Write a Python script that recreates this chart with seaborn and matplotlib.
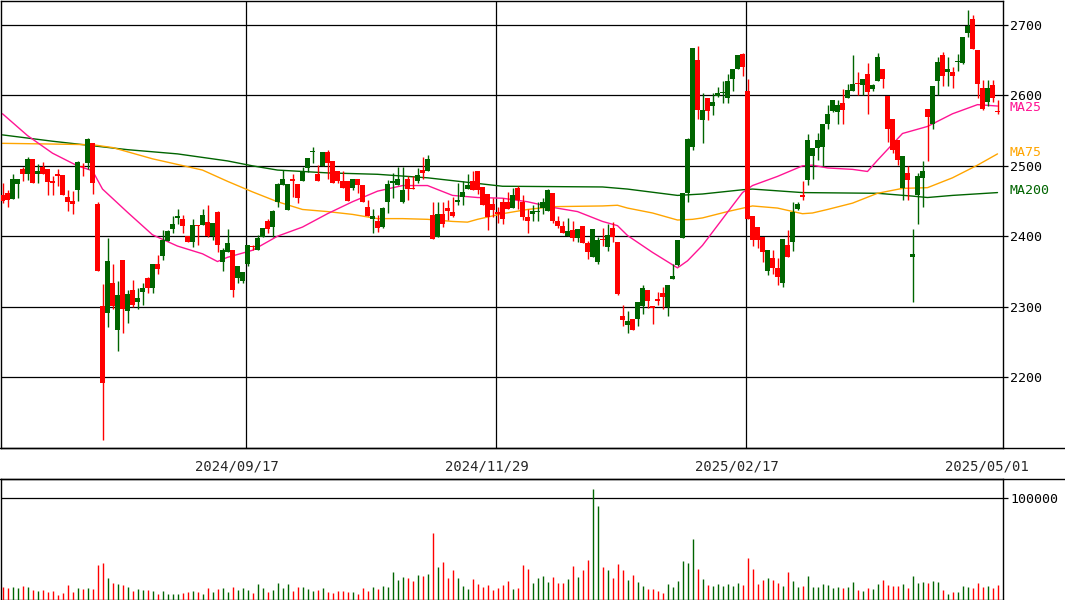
import numpy as np
import pandas as pd
import matplotlib
matplotlib.use("Agg")
import matplotlib.pyplot as plt
import seaborn as sns
from matplotlib.lines import Line2D

sns.set_style("white")
plt.rcParams['font.family'] = ['DejaVu Sans Mono', 'DejaVu Sans']

# daily candles, 2024/07 .. 2025/05/01 (200 sessions)
opens = [2458, 2462, 2453, 2474, 2495, 2488, 2510, 2489, 2499, 2495,
         2478, 2488, 2487, 2456, 2450, 2465, 2500, 2504, 2532, 2446,
         2301, 2291, 2333, 2266, 2366, 2293, 2324, 2307, 2321, 2341,
         2327, 2360, 2372, 2393, 2410, 2426, 2424, 2400, 2392, 2416,
         2416, 2420, 2400, 2434, 2364, 2378, 2380, 2340, 2337, 2360,
         2386, 2380, 2399, 2422, 2413, 2449, 2473, 2437, 2482, 2474,
         2478, 2497, 2519, 2489, 2500, 2519, 2507, 2492, 2479, 2479,
         2469, 2482, 2473, 2442, 2424, 2422, 2413, 2448, 2475, 2473,
         2449, 2481, 2469, 2479, 2494, 2492, 2430, 2399, 2431, 2440,
         2435, 2448, 2456, 2467, 2479, 2493, 2470, 2460, 2446, 2435,
         2449, 2448, 2440, 2469, 2449, 2427, 2431, 2435, 2440, 2436,
         2461, 2422, 2415, 2400, 2409, 2398, 2415, 2390, 2371, 2364,
         2396, 2384, 2412, 2392, 2287, 2274, 2283, 2282, 2301, 2324,
         2301, 2311, 2319, 2299, 2339, 2359, 2397, 2462, 2527, 2650,
         2565, 2597, 2585, 2599, 2603, 2597, 2623, 2637, 2659, 2606,
         2429, 2413, 2399, 2350, 2369, 2355, 2333, 2387, 2392, 2438,
         2458, 2480, 2514, 2526, 2527, 2560, 2578, 2576, 2589, 2597,
         2607, 2618, 2615, 2630, 2609, 2620, 2637, 2599, 2567, 2537,
         2469, 2490, 2371, 2458, 2483, 2581, 2559, 2620, 2657, 2634,
         2634, 2647, 2646, 2689, 2708, 2664, 2610, 2591, 2615, 2578]
highs = [2475, 2466, 2489, 2482, 2499, 2512, 2510, 2502, 2505, 2495,
         2485, 2495, 2487, 2466, 2464, 2507, 2504, 2540, 2532, 2448,
         2332, 2397, 2360, 2336, 2366, 2324, 2338, 2326, 2333, 2342,
         2360, 2373, 2409, 2409, 2429, 2439, 2430, 2400, 2424, 2416,
         2439, 2444, 2419, 2436, 2383, 2410, 2380, 2358, 2349, 2388,
         2388, 2402, 2412, 2425, 2437, 2475, 2494, 2474, 2489, 2474,
         2498, 2511, 2527, 2501, 2519, 2522, 2507, 2492, 2492, 2479,
         2482, 2482, 2473, 2451, 2439, 2430, 2442, 2480, 2490, 2499,
         2499, 2485, 2485, 2497, 2512, 2515, 2449, 2449, 2449, 2451,
         2456, 2475, 2478, 2489, 2492, 2493, 2470, 2460, 2454, 2442,
         2455, 2463, 2469, 2471, 2458, 2439, 2444, 2449, 2455, 2467,
         2461, 2429, 2422, 2426, 2421, 2410, 2415, 2393, 2410, 2399,
         2412, 2417, 2420, 2392, 2302, 2293, 2283, 2306, 2331, 2324,
         2301, 2321, 2328, 2331, 2360, 2395, 2462, 2540, 2667, 2670,
         2603, 2597, 2603, 2612, 2620, 2631, 2637, 2658, 2661, 2624,
         2429, 2413, 2399, 2381, 2381, 2369, 2396, 2409, 2448, 2448,
         2478, 2545, 2526, 2546, 2560, 2586, 2594, 2594, 2609, 2617,
         2657, 2633, 2624, 2646, 2617, 2660, 2637, 2599, 2567, 2537,
         2514, 2500, 2410, 2490, 2507, 2581, 2613, 2655, 2662, 2655,
         2641, 2659, 2683, 2721, 2714, 2664, 2622, 2622, 2622, 2594]
lows = [2447, 2441, 2453, 2454, 2478, 2480, 2475, 2476, 2489, 2458,
        2458, 2472, 2458, 2436, 2431, 2450, 2485, 2495, 2460, 2350,
        2110, 2271, 2296, 2237, 2262, 2276, 2300, 2297, 2302, 2320,
        2320, 2346, 2366, 2393, 2404, 2417, 2404, 2392, 2385, 2387,
        2416, 2399, 2395, 2377, 2350, 2378, 2314, 2334, 2333, 2358,
        2380, 2380, 2399, 2404, 2399, 2442, 2473, 2437, 2456, 2447,
        2478, 2491, 2504, 2478, 2500, 2482, 2476, 2476, 2469, 2450,
        2466, 2461, 2448, 2429, 2404, 2406, 2411, 2433, 2455, 2473,
        2447, 2451, 2467, 2475, 2482, 2492, 2396, 2399, 2413, 2423,
        2427, 2444, 2444, 2467, 2465, 2460, 2444, 2409, 2427, 2419,
        2418, 2439, 2440, 2439, 2423, 2405, 2421, 2422, 2432, 2436,
        2419, 2411, 2404, 2400, 2393, 2392, 2390, 2368, 2371, 2360,
        2386, 2379, 2392, 2316, 2272, 2262, 2267, 2272, 2290, 2298,
        2275, 2302, 2296, 2286, 2339, 2358, 2397, 2448, 2522, 2566,
        2532, 2565, 2572, 2598, 2590, 2590, 2607, 2637, 2627, 2424,
        2386, 2383, 2364, 2345, 2347, 2331, 2328, 2370, 2379, 2437,
        2451, 2473, 2481, 2509, 2500, 2552, 2576, 2560, 2560, 2597,
        2607, 2601, 2601, 2574, 2607, 2620, 2610, 2534, 2518, 2501,
        2452, 2451, 2307, 2417, 2442, 2507, 2552, 2601, 2613, 2613,
        2610, 2635, 2645, 2683, 2666, 2597, 2579, 2585, 2591, 2573]
closes = [2450, 2452, 2482, 2482, 2488, 2510, 2475, 2492, 2489, 2477,
          2476, 2486, 2458, 2449, 2446, 2505, 2498, 2538, 2475, 2350,
          2192, 2365, 2301, 2316, 2297, 2318, 2302, 2312, 2327, 2327,
          2360, 2354, 2395, 2407, 2417, 2429, 2414, 2392, 2416, 2414,
          2430, 2400, 2419, 2387, 2380, 2391, 2324, 2358, 2349, 2388,
          2384, 2398, 2412, 2410, 2436, 2474, 2482, 2474, 2479, 2454,
          2491, 2511, 2521, 2479, 2519, 2504, 2476, 2478, 2469, 2450,
          2482, 2473, 2448, 2429, 2429, 2412, 2440, 2474, 2478, 2482,
          2466, 2467, 2467, 2487, 2490, 2510, 2396, 2431, 2417, 2436,
          2429, 2451, 2463, 2473, 2465, 2466, 2444, 2428, 2437, 2432,
          2425, 2439, 2459, 2451, 2428, 2422, 2436, 2436, 2448, 2466,
          2421, 2414, 2404, 2407, 2398, 2410, 2390, 2377, 2410, 2395,
          2394, 2402, 2399, 2318, 2281, 2280, 2267, 2306, 2326, 2308,
          2298, 2308, 2313, 2331, 2344, 2395, 2462, 2538, 2667, 2580,
          2580, 2578, 2591, 2604, 2605, 2620, 2637, 2658, 2640, 2424,
          2395, 2395, 2377, 2381, 2355, 2342, 2396, 2370, 2434, 2446,
          2456, 2537, 2526, 2537, 2560, 2574, 2594, 2587, 2580, 2608,
          2617, 2616, 2624, 2605, 2615, 2655, 2624, 2553, 2522, 2508,
          2514, 2480, 2375, 2485, 2492, 2570, 2613, 2647, 2627, 2638,
          2627, 2649, 2683, 2699, 2666, 2616, 2581, 2610, 2597, 2576]
volumes = [12500, 11500, 12500, 11500, 13500, 12500, 9500, 8600, 9500, 7600,
           8600, 4600, 6600, 14500, 7600, 11500, 10500, 11500, 10500, 34200,
           36200, 21400, 16400, 15500, 14500, 12500, 8600, 10500, 9500, 9500,
           8600, 5600, 8600, 5600, 5600, 5600, 6600, 7600, 8600, 7600,
           5600, 11500, 7600, 10500, 11500, 7600, 12500, 9500, 11500, 9500,
           6600, 15500, 11500, 7600, 9500, 16400, 11500, 15500, 8600, 12500,
           12500, 10500, 8600, 9500, 11500, 7600, 6600, 8600, 8600, 7600,
           7600, 5600, 11500, 8600, 12500, 10500, 13500, 12500, 27300, 19400,
           22400, 21400, 18400, 24300, 23400, 25300, 65800, 32200, 37200, 21400,
           29300, 21400, 13500, 10500, 20400, 15500, 12500, 14500, 9500, 11500,
           14500, 18400, 10500, 11500, 34200, 30300, 16400, 21400, 23400, 17400,
           22400, 16400, 16400, 20400, 33200, 22400, 29300, 39100, 109200, 92400,
           32200, 29300, 21400, 35200, 29300, 19400, 24300, 17400, 13500, 10500,
           10500, 8600, 6600, 15500, 12500, 18400, 38200, 36200, 59900, 30300,
           20400, 14500, 13500, 15500, 13500, 15500, 13500, 16400, 14500, 41100,
           30300, 15500, 19400, 21400, 19400, 16400, 13500, 27300, 18400, 12500,
           13500, 23400, 12500, 12500, 15500, 14500, 11500, 12500, 11500, 12500,
           17400, 9500, 8600, 11500, 10500, 15500, 19400, 14500, 13500, 13500,
           15500, 11500, 23400, 16400, 17400, 16400, 18400, 17400, 9500, 5600,
           7600, 7600, 13500, 12500, 11500, 16400, 12500, 13500, 11500, 14500]

# moving averages at a few sessions
ma25_idx = [0, 5, 10, 15, 18, 20, 25, 30, 35, 40, 43, 45, 50, 55, 60, 65, 70, 75,
            80, 85, 90, 95, 100, 105, 110, 115, 120, 123, 125, 130, 135, 137, 140, 145,
            148, 150, 155, 160, 162, 165, 170, 173, 175, 180, 185, 190, 195, 199]
ma25 = [2574, 2543, 2518, 2500, 2493, 2467, 2434, 2402, 2386, 2375, 2364, 2370, 2380, 2400,
        2413, 2432, 2449, 2464, 2472, 2472, 2458, 2455, 2454, 2449, 2441, 2435, 2421, 2415,
        2401, 2377, 2355, 2365, 2387, 2434, 2462, 2472, 2485, 2500, 2501, 2497, 2495, 2492,
        2508, 2546, 2556, 2574, 2587, 2585]
ma75_idx = [0, 10, 18, 22, 25, 30, 35, 40, 45, 50, 55, 60, 65, 70, 75, 80, 85, 90, 93, 95,
            100, 105, 110, 120, 123, 125, 130, 135, 138, 140, 145, 150, 155, 160, 162, 165,
            170, 175, 180, 185, 190, 195, 199]
ma75 = [2532, 2531, 2530, 2526, 2520, 2510, 2502, 2494, 2478, 2463, 2449, 2438, 2435, 2431,
        2425, 2425, 2424, 2421, 2420, 2424, 2432, 2438, 2442, 2443, 2444, 2440, 2433, 2423,
        2424, 2426, 2435, 2443, 2440, 2432, 2433, 2438, 2447, 2461, 2468, 2469, 2483, 2501, 2517]
ma200_idx = [0, 10, 20, 25, 35, 45, 50, 55, 65, 75, 85, 95, 100, 120, 125, 135, 140, 148,
             150, 160, 175, 182, 185, 190, 199]
ma200 = [2544, 2535, 2527, 2523, 2517, 2507, 2500, 2494, 2490, 2488, 2483, 2475, 2471, 2470,
         2467, 2458, 2460, 2466, 2467, 2462, 2461, 2457, 2455, 2458, 2462]

date_idx = [49, 99, 149, 199]
date_labels = ['2024/09/17', '2024/11/29', '2025/02/17', '2025/05/01']
price_ticks = [2200, 2300, 2400, 2500, 2600, 2700]

UP = '#006400'
DOWN = '#ff0000'

df = pd.DataFrame({'open': opens, 'high': highs, 'low': lows, 'close': closes, 'vol': volumes})
df['idx'] = np.arange(len(df))
df['color'] = np.where(df['close'] >= df['open'], UP, DOWN)
body_lo = df[['open', 'close']].min(axis=1)
body_h = (df['close'] - df['open']).abs().clip(lower=1.4)

W, H = 1065, 600
fig = plt.figure(figsize=(W / 100, H / 100), dpi=100)
ax = fig.add_axes([1 / W, 152 / H, 1002 / W, 447.5 / H])
axv = fig.add_axes([1 / W, 0.5 / H, 1002 / W, 120.5 / H])

# grid
for p in price_ticks:
    ax.axhline(p, color='black', lw=0.9, zorder=1)
for d in date_idx[:3]:
    ax.axvline(d - 0.35, color='black', lw=0.9, zorder=1)
axv.axhline(100000, color='black', lw=0.9, zorder=1)

# moving averages
sns.lineplot(x=ma200_idx, y=ma200, ax=ax, color='#006400', lw=1.0, zorder=2)
sns.lineplot(x=ma75_idx, y=ma75, ax=ax, color='#ffa500', lw=1.0, zorder=2)
sns.lineplot(x=ma25_idx, y=ma25, ax=ax, color='#ff1493', lw=1.0, zorder=2)

# candles
ax.vlines(df['idx'], df['low'], df['high'], colors=df['color'], lw=1.0, zorder=3)
ax.bar(df['idx'], body_h, bottom=body_lo, width=0.82, color=df['color'], linewidth=0, zorder=4)

# volume
axv.vlines(df['idx'], 0, df['vol'], colors=df['color'], lw=1.0, zorder=3)

for a in (ax, axv):
    a.set_xlim(-0.3, 200.1)
    for s in a.spines.values():
        s.set_color('black')
        s.set_linewidth(1.0)
    a.yaxis.tick_right()
    a.tick_params(axis='y', direction='out', length=3.6, width=0.9, pad=1.5,
                  labelsize=9.5, colors='black')
    a.set_xlabel('')
    a.set_ylabel('')

ax.set_ylim(2099, 2735)
ax.set_yticks(price_ticks)
ax.set_yticklabels([str(p) for p in price_ticks])
ax.set_xticks([d - 2.1 for d in date_idx])
ax.set_xticklabels(date_labels)
ax.tick_params(axis='x', length=0, pad=8.5, labelsize=10)

axv.set_ylim(0, 118700)
axv.set_yticks([100000])
axv.set_yticklabels(['100000'])
axv.set_xticks([])

# full-width separators
for yy in (152 / H, 121 / H):
    fig.add_artist(Line2D([0, 1], [yy, yy], color='black', lw=1.0, transform=fig.transFigure))

# MA legend on the right
fig.text(1010 / W, 1 - 108 / H, 'MA25', color='#ff1493', fontsize=9.5, va='center', ha='left')
fig.text(1010 / W, 1 - 152 / H, 'MA75', color='#ffa500', fontsize=9.5, va='center', ha='left')
fig.text(1010 / W, 1 - 191 / H, 'MA200', color='#006400', fontsize=9.5, va='center', ha='left')

fig.savefig('out.png', dpi=100, facecolor='white')
